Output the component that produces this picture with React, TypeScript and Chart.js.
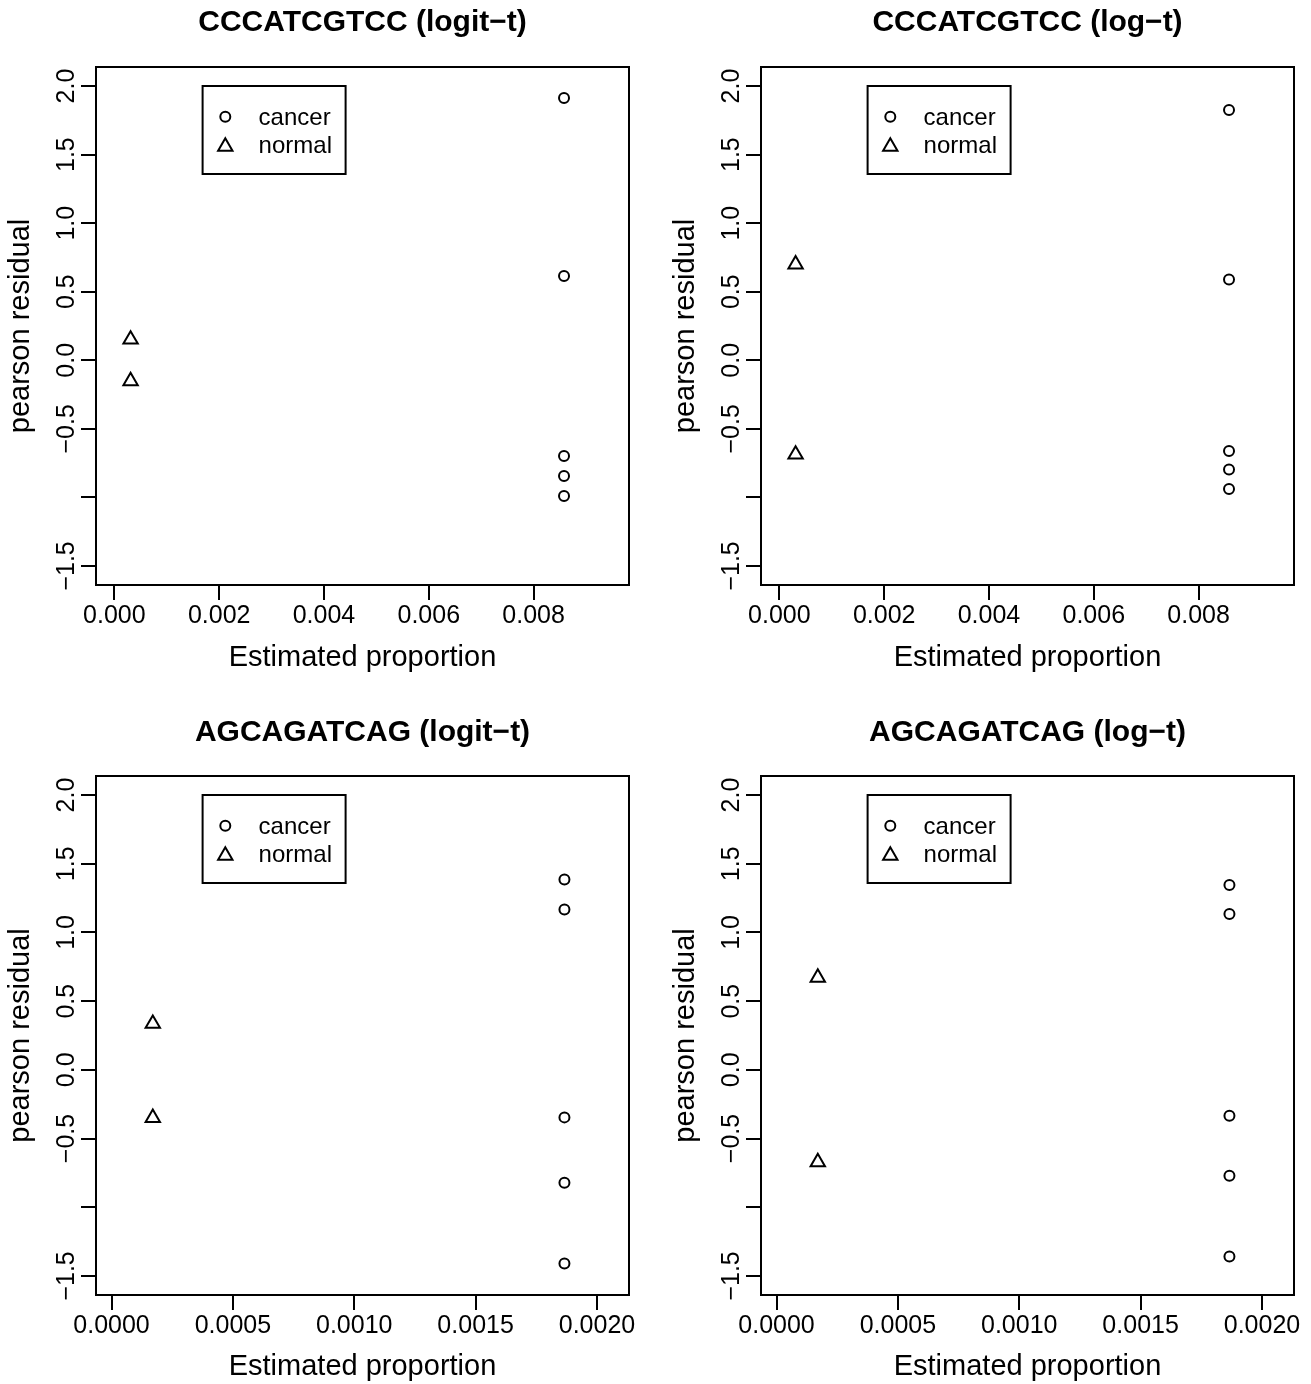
import React, { useEffect, useRef } from 'react';
import { Chart, registerables } from 'chart.js';

Chart.register(...registerables);

const FONT = "'Liberation Sans', Arial, Helvetica, sans-serif";

// ---------- texts ----------
const panelTitles = [
  'CCCATCGTCC (logit\u2212t)',
  'CCCATCGTCC (log\u2212t)',
  'AGCAGATCAG (logit\u2212t)',
  'AGCAGATCAG (log\u2212t)',
];
const seriesNames = ['cancer', 'normal'];
const xAxisLabel = 'Estimated proportion';
const yAxisLabel = 'pearson residual';

// ---------- ticks ----------
const yTicks = [-1.5, -1.0, -0.5, 0, 0.5, 1.0, 1.5, 2.0];
const yUnlabeled = [-1.0];
const xTicksTop = [0, 0.002, 0.004, 0.006, 0.008];
const xTicksBottom = [0, 0.0005, 0.001, 0.0015, 0.002];

// ---------- data ----------
// CCCATCGTCC (logit-t)
const p1CancerX = [0.00858, 0.00858, 0.00858, 0.00858, 0.00858];
const p1CancerY = [1.913, 0.615, -0.698, -0.844, -0.99];
const p1NormalX = [0.00031, 0.00031];
const p1NormalY = [0.152, -0.151];
// CCCATCGTCC (log-t)
const p2CancerX = [0.00858, 0.00858, 0.00858, 0.00858, 0.00858];
const p2CancerY = [1.826, 0.589, -0.662, -0.797, -0.939];
const p2NormalX = [0.00031, 0.00031];
const p2NormalY = [0.7, -0.687];
// AGCAGATCAG (logit-t)
const p3CancerX = [0.001866, 0.001866, 0.001866, 0.001866, 0.001866];
const p3CancerY = [1.386, 1.167, -0.346, -0.822, -1.409];
const p3NormalX = [0.00017, 0.00017];
const p3NormalY = [0.336, -0.35];
// AGCAGATCAG (log-t)
const p4CancerX = [0.001866, 0.001866, 0.001866, 0.001866, 0.001866];
const p4CancerY = [1.346, 1.135, -0.335, -0.771, -1.359];
const p4NormalX = [0.00017, 0.00017];
const p4NormalY = [0.671, -0.672];

// ---------- axis ranges ----------
const yRange = [-1.639, 2.139];
const xRangeTop = [-0.00035, 0.00982];
const xRangeBottom = [-0.000064, 0.002132];

// ---------- layout (positions / sizes only) ----------
const CW = 655;
const CH = 692;
type Layout = {
  left: number; top: number;
  area: { left: number; top: number; right: number; bottom: number };
  titleCenter: number; xTitleCenter: number;
};
const layouts: Layout[] = [
  { left: 0, top: 0, area: { left: 96, top: 67, right: 629, bottom: 585 }, titleCenter: 23, xTitleCenter: 657.5 },
  { left: 656, top: 0, area: { left: 105, top: 67, right: 638, bottom: 585 }, titleCenter: 23, xTitleCenter: 657.5 },
  { left: 0, top: 692, area: { left: 96, top: 84, right: 629, bottom: 603 }, titleCenter: 41, xTitleCenter: 675 },
  { left: 656, top: 692, area: { left: 105, top: 84, right: 638, bottom: 603 }, titleCenter: 41, xTitleCenter: 675 },
];

const fmt = (v: number, d: number) => (v < 0 ? '\u2212' : '') + Math.abs(v).toFixed(d);

type PanelData = {
  title: string;
  cancerX: number[]; cancerY: number[];
  normalX: number[]; normalY: number[];
  xTicks: number[]; xDecimals: number; xRange: number[];
};

const panels: PanelData[] = [
  { title: panelTitles[0], cancerX: p1CancerX, cancerY: p1CancerY, normalX: p1NormalX, normalY: p1NormalY, xTicks: xTicksTop, xDecimals: 3, xRange: xRangeTop },
  { title: panelTitles[1], cancerX: p2CancerX, cancerY: p2CancerY, normalX: p2NormalX, normalY: p2NormalY, xTicks: xTicksTop, xDecimals: 3, xRange: xRangeTop },
  { title: panelTitles[2], cancerX: p3CancerX, cancerY: p3CancerY, normalX: p3NormalX, normalY: p3NormalY, xTicks: xTicksBottom, xDecimals: 4, xRange: xRangeBottom },
  { title: panelTitles[3], cancerX: p4CancerX, cancerY: p4CancerY, normalX: p4NormalX, normalY: p4NormalY, xTicks: xTicksBottom, xDecimals: 4, xRange: xRangeBottom },
];

function drawSymbol(ctx: CanvasRenderingContext2D, style: string, x: number, y: number, r: number) {
  ctx.beginPath();
  if (style === 'triangle') {
    let rad = 0;
    ctx.moveTo(x + Math.sin(rad) * r, y - Math.cos(rad) * r);
    rad += (2 * Math.PI) / 3;
    ctx.lineTo(x + Math.sin(rad) * r, y - Math.cos(rad) * r);
    rad += (2 * Math.PI) / 3;
    ctx.lineTo(x + Math.sin(rad) * r, y - Math.cos(rad) * r);
    ctx.closePath();
  } else {
    ctx.arc(x, y, r, 0, Math.PI * 2);
  }
  ctx.stroke();
}

const framePlugin = {
  id: 'rFrame',
  afterDraw(chart: any) {
    const { ctx, chartArea: a } = chart;
    ctx.save();
    ctx.strokeStyle = '#000';
    ctx.lineWidth = 2;
    ctx.strokeRect(a.left, a.top, a.right - a.left, a.bottom - a.top);
    ctx.restore();
  },
};

const boxLegendPlugin = {
  id: 'rBoxLegend',
  afterDraw(chart: any) {
    const { ctx, chartArea: a } = chart;
    const lx = a.left + 0.2 * (a.right - a.left);
    const ly = a.top + 19;
    const lw = 143;
    const lh = 88;
    ctx.save();
    ctx.strokeStyle = '#000';
    ctx.lineWidth = 2;
    ctx.strokeRect(lx, ly, lw, lh);
    ctx.fillStyle = '#000';
    ctx.font = `24px ${FONT}`;
    ctx.textAlign = 'left';
    ctx.textBaseline = 'alphabetic';
    const symY = [30.7, 60.5];
    const baseY = [39, 67.3];
    chart.data.datasets.forEach((ds: any, i: number) => {
      drawSymbol(ctx, ds.pointStyle, lx + 22.7, ly + symY[i], ds.pointRadius);
      ctx.fillText(ds.label, lx + 56, ly + baseY[i]);
    });
    ctx.restore();
  },
};

function Panel({ data, layout }: { data: PanelData; layout: Layout }) {
  const ref = useRef<HTMLCanvasElement>(null);
  useEffect(() => {
    if (!ref.current) return;
    const a = layout.area;
    const chart = new Chart(ref.current, {
      type: 'scatter',
      data: {
        datasets: [
          {
            label: seriesNames[0],
            data: data.cancerX.map((x, i) => ({ x, y: data.cancerY[i] })),
            pointStyle: 'circle',
            pointRadius: 5,
            pointBorderWidth: 2,
            pointBorderColor: '#000',
            pointBackgroundColor: 'rgba(0,0,0,0)',
            showLine: false,
          },
          {
            label: seriesNames[1],
            data: data.normalX.map((x, i) => ({ x, y: data.normalY[i] })),
            pointStyle: 'triangle',
            pointRadius: 8.3,
            pointBorderWidth: 2,
            pointBorderColor: '#000',
            pointBackgroundColor: 'rgba(0,0,0,0)',
            showLine: false,
          },
        ],
      },
      options: {
        animation: false,
        responsive: false,
        devicePixelRatio: 1,
        events: [],
        layout: { padding: { left: 0, top: 0, right: CW - a.right, bottom: 0 } },
        plugins: {
          legend: { display: false },
          tooltip: { enabled: false },
          title: {
            display: true,
            text: data.title,
            fullSize: false,
            color: '#000',
            font: { family: FONT, size: 30, weight: 'bold', lineHeight: 1 },
            padding: { top: layout.titleCenter - 15, bottom: a.top - (layout.titleCenter - 15) - 30 },
          },
        },
        scales: {
          x: {
            type: 'linear',
            position: 'bottom',
            min: data.xRange[0],
            max: data.xRange[1],
            afterBuildTicks: (s: any) => {
              s.ticks = data.xTicks.map((v) => ({ value: v }));
            },
            afterFit: (s: any) => {
              s.height = CH - a.bottom;
            },
            ticks: {
              autoSkip: false,
              maxRotation: 0,
              minRotation: 0,
              padding: 3.5,
              color: '#000',
              font: { family: FONT, size: 25, lineHeight: 1 },
              callback: (v: any) => fmt(Number(v), data.xDecimals),
            },
            grid: { drawOnChartArea: false, drawTicks: true, tickLength: 15, color: '#000', lineWidth: 2 },
            border: { display: true, color: '#000', width: 2 },
            title: {
              display: true,
              text: xAxisLabel,
              color: '#000',
              font: { family: FONT, size: 29, lineHeight: 1 },
              padding: { top: 0, bottom: CH - layout.xTitleCenter - 14.5 },
            },
          },
          y: {
            type: 'linear',
            position: 'left',
            min: yRange[0],
            max: yRange[1],
            afterBuildTicks: (s: any) => {
              s.ticks = yTicks.map((v) => ({ value: v }));
            },
            afterFit: (s: any) => {
              s.width = a.left;
            },
            ticks: {
              autoSkip: false,
              minRotation: 90,
              maxRotation: 90,
              crossAlign: 'center',
              padding: -10.5,
              color: '#000',
              font: { family: FONT, size: 25, lineHeight: 1 },
              callback: (v: any) => (yUnlabeled.includes(Number(v)) ? '' : fmt(Number(v), 1)),
            },
            grid: { drawOnChartArea: false, drawTicks: true, tickLength: 15, color: '#000', lineWidth: 2 },
            border: { display: true, color: '#000', width: 2 },
            title: {
              display: true,
              text: yAxisLabel,
              color: '#000',
              font: { family: FONT, size: 29, lineHeight: 1 },
              padding: { top: a.left - 75 - 14.5, bottom: 0 },
            },
          },
        },
      } as any,
      plugins: [framePlugin, boxLegendPlugin],
    });
    return () => chart.destroy();
  }, []);
  return (
    <canvas
      ref={ref}
      width={CW}
      height={CH}
      style={{ position: 'absolute', left: layout.left, top: layout.top, width: CW, height: CH }}
    />
  );
}

export default function App() {
  return (
    <div style={{ position: 'absolute', left: 0, top: 0, width: 1311, height: 1384, background: '#fff' }}>
      {panels.map((p, i) => (
        <Panel key={i} data={p} layout={layouts[i]} />
      ))}
    </div>
  );
}
